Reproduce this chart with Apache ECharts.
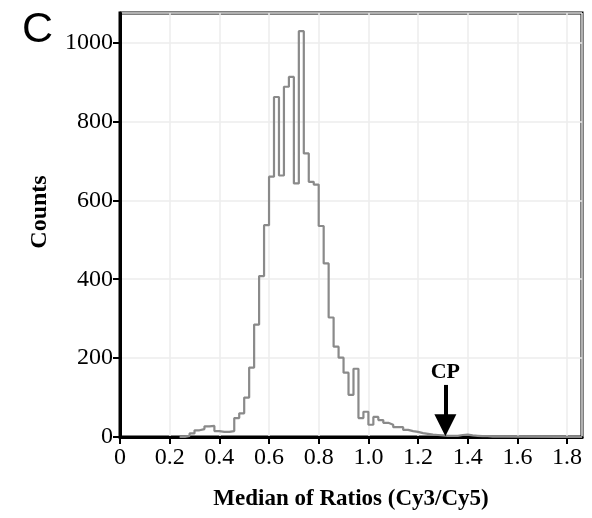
<!DOCTYPE html>
<html lang="en">
<head>
    <meta charset="UTF-8">
    <title>Median of Ratios histogram</title>
    <script src="https://cdn.jsdelivr.net/npm/echarts@6/dist/echarts.min.js"></script>
    <style>
        html, body {
            margin: 0;
            padding: 0;
            background: #fff;
        }
        #chart {
            width: 592px;
            height: 518px;
        }
    </style>
</head>
<body>
<div id="chart"></div>
<script>
    // histogram bins: left edge of first bin, bin width, counts per bin
    const binStart = 0.24;
    const binWidth = 0.02;
    const counts = [
        0, 3, 9, 17, 20, 27, 28, 15, 13, 13,
        15, 48, 60, 100, 176, 285, 408, 537, 660, 862,
        663, 888, 913, 643, 1029, 719, 647, 640, 535, 440,
        303, 229, 201, 163, 107, 173, 48, 64, 31, 51,
        43, 36, 31, 25, 25, 18, 15, 13, 10, 8,
        6, 5, 4, 3, 3, 3, 5, 6, 4, 3,
        2, 2, 1, 1, 1, 0
    ];
    const xMax = 1.86;
    const yMax = 1075;
    // CP marker: x position, arrow start / end heights (counts)
    const cpX = 1.31;
    const cpFrom = 132;
    const cpTo = 30;

    let stepData = [];
    counts.forEach(function (c, i) {
        stepData.push([+(binStart + i * binWidth).toFixed(2), c]);
    });
    stepData.push([xMax, 0]);

    const serif = '"Liberation Serif", "Times New Roman", serif';

    let myChart = echarts.init(document.getElementById('chart'));
    let option = {
        animation: false,
        backgroundColor: '#fff',
        title: {
            text: 'C',
            left: 17,
            top: 4,
            textStyle: {
                fontFamily: '"Liberation Sans", Arial, sans-serif',
                fontSize: 43,
                fontWeight: 'normal',
                color: '#000'
            }
        },
        grid: {
            left: 120,
            right: 10,
            top: 13,
            bottom: 81,
            show: true,
            borderColor: '#000',
            borderWidth: 3,
            backgroundColor: '#fff'
        },
        xAxis: {
            type: 'value',
            min: 0,
            max: xMax,
            interval: 0.2,
            name: 'Median of Ratios (Cy3/Cy5)',
            nameLocation: 'middle',
            nameGap: 51,
            nameTextStyle: {
                fontFamily: serif,
                fontSize: 23,
                fontWeight: 'bold',
                color: '#000'
            },
            axisLine: {lineStyle: {color: '#000', width: 3}},
            axisTick: {length: 7, lineStyle: {color: '#000', width: 2}},
            axisLabel: {
                margin: 9,
                showMaxLabel: false,
                fontFamily: serif,
                fontSize: 24,
                color: '#000',
                formatter: function (v) {
                    return v === 0 ? '0' : v.toFixed(1);
                }
            },
            splitLine: {lineStyle: {color: '#ececec', width: 1.5}}
        },
        yAxis: {
            type: 'value',
            min: 0,
            max: yMax,
            interval: 200,
            name: 'Counts',
            nameLocation: 'middle',
            nameGap: 68,
            nameTextStyle: {
                fontFamily: serif,
                fontSize: 24,
                fontWeight: 'bold',
                color: '#000',
                padding: [0, 0, 0, 26]
            },
            axisLine: {show: true, lineStyle: {color: '#000', width: 3}},
            axisTick: {show: true, length: 7, lineStyle: {color: '#000', width: 2}},
            axisLabel: {
                margin: 7,
                showMaxLabel: false,
                fontFamily: serif,
                fontSize: 24,
                color: '#000',
                formatter: function (v) {
                    return String(v);
                }
            },
            splitLine: {lineStyle: {color: '#ececec', width: 1.5}}
        },
        series: [{
            type: 'line',
            step: 'end',
            data: stepData,
            showSymbol: false,
            symbol: 'none',
            lineStyle: {color: '#8a8a8a', width: 2.2},
            silent: true,
            markLine: {
                silent: true,
                symbol: ['none', 'triangle'],
                symbolSize: 22,
                lineStyle: {color: '#000', width: 4, type: 'solid'},
                itemStyle: {color: '#000'},
                label: {
                    show: true,
                    position: 'start',
                    distance: 2,
                    formatter: 'CP',
                    fontFamily: serif,
                    fontSize: 22,
                    fontWeight: 'bold',
                    color: '#000'
                },
                data: [[
                    {coord: [cpX, cpFrom]},
                    {coord: [cpX, cpTo]}
                ]]
            }
        }]
    };
    myChart.setOption(option);
</script>
</body>
</html>
